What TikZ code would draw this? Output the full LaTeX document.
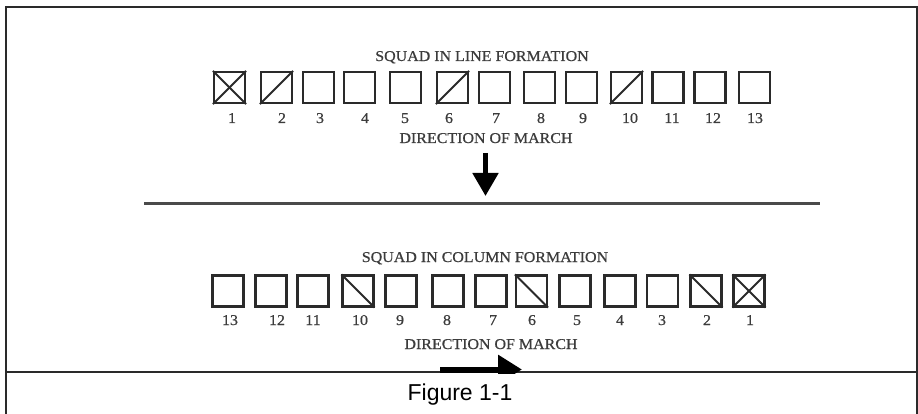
\documentclass[tikz,border=0pt]{standalone}
\usepackage{fontspec}
\setmainfont{Liberation Serif}
\newfontfamily\lblfont[FakeStretch=1.065,FakeBold=0.6]{Liberation Serif}
\newfontfamily\capfont{Liberation Sans}
\usetikzlibrary{arrows.meta}
\definecolor{ink}{HTML}{2A2A2A}
\definecolor{txt}{HTML}{3C3C3C}
\definecolor{sepc}{HTML}{4A4A4A}
\begin{document}
\begin{tikzpicture}[x=1pt,y=-1pt,
  soldier/.style={draw=ink, line width=2.2pt, minimum width=31pt, minimum height=31pt, inner sep=0pt},
  diag/.style={draw=ink, line width=2pt},
  num/.style={anchor=base, font=\lblfont\fontsize{15}{15}\selectfont, text=txt, inner sep=0pt},
  heading/.style={anchor=base, font=\lblfont\fontsize{15}{15}\selectfont, text=txt, inner sep=0pt},
  frame/.style={draw=ink, line width=2.8pt},
  march/.style={draw=black, line width=5pt, -{Triangle[width=25pt,length=23pt]}},
  marchr/.style={draw=black, line width=6pt, -{Triangle[width=28pt,length=24pt]}}]
\useasboundingbox (0,0) rectangle (918,414);
\fill[white] (0,0) rectangle (918,414);

% frame
\coordinate (fBL) at (6,414);
\coordinate (fTL) at (6,7);
\coordinate (fTR) at (917,7);
\coordinate (fBR) at (917,414);
\coordinate (cL) at (6,372);
\coordinate (cR) at (917,372);
\draw[frame] (fBL) -- (fTL) -- (fTR) -- (fBR);
\draw[frame] (cL) -- (cR);

% top: line formation
\node[heading] (ttitle) at (482,61) {SQUAD IN LINE FORMATION};
\foreach \i/\x in {1/229.5,2/276.5,3/318.5,4/359.5,5/405.5,6/452.5,7/494.5,8/539.5,9/581.5,10/626.5,11/668,12/710,13/754.5}
  \node[soldier] (t\i) at (\x,87.5) {};
\foreach \i/\x in {1/232,2/282,3/320,4/365,5/405,6/449,7/496,8/541,9/583,10/630,11/672,12/713,13/755}
  \node[num] (tn\i) at (\x,123) {\i};
\draw[diag] (t1.south west) -- (t1.north east);
\draw[diag] (t1.north west) -- (t1.south east);
\foreach \i in {2,6,10}
  \draw[diag] (t\i.south west) -- (t\i.north east);
\node[heading] (tdir) at (486,143) {DIRECTION OF MARCH};
\coordinate (dA) at (485.5,153);
\coordinate (dB) at (485.5,196);
\draw[march] (dA) -- (dB);

% separator
\coordinate (sepL) at (144,204);
\coordinate (sepR) at (820,204);
\draw[draw=sepc, line width=3pt] (sepL) -- (sepR);

% bottom: column formation
\node[heading] (btitle) at (485,262) {SQUAD IN COLUMN FORMATION};
\foreach \i/\x in {13/228,12/271,11/313,10/358,9/401,8/448,7/491,6/531.5,5/575,4/620,3/662.5,2/706,1/749}
  \node[soldier] (b\i) at (\x,291) {};
\foreach \i/\x in {13/230,12/277,11/313,10/360,9/400,8/447,7/493,6/532,5/577,4/620,3/662,2/707,1/750}
  \node[num] (bn\i) at (\x,325) {\i};
\draw[diag] (b1.south west) -- (b1.north east);
\draw[diag] (b1.north west) -- (b1.south east);
\foreach \i in {2,6,10}
  \draw[diag] (b\i.north west) -- (b\i.south east);
\node[heading] (bdir) at (491,349) {DIRECTION OF MARCH};
\coordinate (rA) at (440,369.5);
\coordinate (rB) at (522,369.5);
\begin{scope}
  \clip (0,0) rectangle (918,373);
  \draw[marchr] (rA) -- (rB);
\end{scope}

% caption
\node[anchor=base, font=\capfont\fontsize{23}{23}\selectfont, text=black, inner sep=0pt] (cap) at (460,400) {Figure 1-1};
\end{tikzpicture}
\end{document}
